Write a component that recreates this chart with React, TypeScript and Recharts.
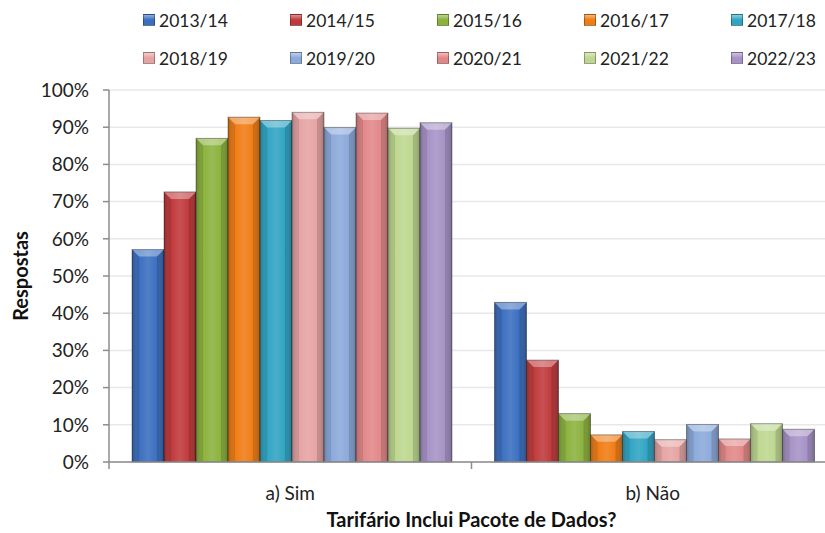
import { BarChart, Bar, XAxis, YAxis, CartesianGrid, Legend, Label } from 'recharts';

const categories = ['a) Sim', 'b) Não'];
const seasons = ['2013/14', '2014/15', '2015/16', '2016/17', '2017/18', '2018/19', '2019/20', '2020/21', '2021/22', '2022/23'];
const simValues = [57.1, 72.6, 87.0, 92.7, 91.8, 94.0, 89.9, 93.8, 89.7, 91.2];
const naoValues = [42.9, 27.4, 13.0, 7.3, 8.2, 6.0, 10.1, 6.2, 10.3, 8.8];
const yTicks = [0, 10, 20, 30, 40, 50, 60, 70, 80, 90, 100];

const colors = ['#3a6ebf', '#c0393b', '#8bb23d', '#f07c14', '#2fa4c3', '#e6a3a3', '#8ba9db', '#e28788', '#bdd78f', '#a692c6'];

const data = categories.map((name, ci) => {
  const src = ci === 0 ? simValues : naoValues;
  const row: Record<string, string | number> = { name };
  seasons.forEach((s, si) => {
    row[s] = src[si];
  });
  return row;
});

const FONT = 'Lato, "DejaVu Sans", sans-serif';
const AXIS_GREY = '#8c8c8c';
const CAT_MARGIN = 30;

// bar with a bevelled look, like the old office 3D style
function BevelBar(props: any) {
  const { x, y, width, height, fill } = props;
  if (!height || height <= 0) return null;
  const b = Math.min(7, height / 2, width / 4);
  return (
    <g>
      <rect x={x} y={y} width={width} height={height} fill={fill} />
      <rect x={x} y={y} width={width} height={height} fill="url(#shine)" />
      <polygon
        points={`${x},${y} ${x + width},${y} ${x + width - b},${y + b} ${x + b},${y + b}`}
        fill="#fff"
        fillOpacity={0.35}
      />
      <polygon
        points={`${x},${y} ${x + b},${y + b} ${x + b},${y + height} ${x},${y + height}`}
        fill="#000"
        fillOpacity={0.1}
      />
      <polygon
        points={`${x + width},${y} ${x + width - b},${y + b} ${x + width - b},${y + height} ${x + width},${y + height}`}
        fill="#000"
        fillOpacity={0.14}
      />
      <rect x={x} y={y} width={width} height={height} fill="none" stroke="#000" strokeOpacity={0.35} strokeWidth={1} />
    </g>
  );
}

// category label plus the small divider tick at the left edge of each category
function CatTick(props: any) {
  const { x, y, payload } = props;
  const half = payload?.offset ?? 0;
  const axisY = y - CAT_MARGIN;
  return (
    <g>
      {half > 0 && (
        <line x1={x - half} x2={x - half} y1={axisY} y2={axisY + 7} stroke={AXIS_GREY} strokeWidth={1.5} />
      )}
      <text x={x} y={y} textAnchor="middle" dominantBaseline="central" fontFamily={FONT} fontSize={19} fill="#222">
        {payload.value}
      </text>
    </g>
  );
}

function renderLegend(props: any) {
  const items = props.payload ?? [];
  return (
    <div style={{ position: 'relative', height: 80, fontFamily: FONT }}>
      {items.map((it: any, i: number) => (
        <div
          key={it.value}
          style={{
            position: 'absolute',
            left: 143 + (i % 5) * 147,
            top: i < 5 ? 10 : 48,
            height: 20,
            display: 'flex',
            alignItems: 'center',
            fontSize: 17.5,
            color: '#222',
          }}
        >
          <span
            style={{
              display: 'inline-block',
              width: 10,
              height: 10,
              marginRight: 4,
              background: `linear-gradient(180deg, rgba(255,255,255,0.45), rgba(255,255,255,0) 50%), ${it.color}`,
              border: '1px solid rgba(0,0,0,0.3)',
            }}
          />
          {it.value}
        </div>
      ))}
    </div>
  );
}

function XTitle(props: any) {
  const vb = props.viewBox;
  return (
    <text
      x={vb.x + vb.width / 2}
      y={vb.y + 57}
      textAnchor="middle"
      dominantBaseline="central"
      fontFamily={FONT}
      fontWeight={700}
      fontSize={20}
      fill="#111"
    >
      Tarifário Inclui Pacote de Dados?
    </text>
  );
}

function YTitle(props: any) {
  const vb = props.viewBox;
  const cx = vb.x + 11;
  const cy = vb.y + vb.height / 2;
  return (
    <text
      x={cx}
      y={cy}
      transform={`rotate(-90 ${cx} ${cy})`}
      textAnchor="middle"
      dominantBaseline="central"
      fontFamily={FONT}
      fontWeight={700}
      fontSize={20}
      fill="#111"
    >
      Respostas
    </text>
  );
}

export default function App() {
  return (
    <div style={{ position: 'absolute', left: 0, top: 0, width: 825, height: 533, overflow: 'hidden', background: '#fff' }}>
      <BarChart
        width={834}
        height={533}
        data={data}
        margin={{ top: 10, right: 0, left: 9, bottom: 41 }}
        barCategoryGap={23}
        barGap={0}
      >
        <defs>
          <linearGradient id="shine" x1="0" y1="0" x2="1" y2="0">
            <stop offset="0%" stopColor="#000" stopOpacity={0.18} />
            <stop offset="20%" stopColor="#fff" stopOpacity={0} />
            <stop offset="50%" stopColor="#fff" stopOpacity={0.12} />
            <stop offset="80%" stopColor="#fff" stopOpacity={0} />
            <stop offset="100%" stopColor="#000" stopOpacity={0.18} />
          </linearGradient>
        </defs>
        <CartesianGrid vertical={false} stroke="#e8e8e8" strokeWidth={1.5} />
        <XAxis
          dataKey="name"
          height={30}
          tickLine={false}
          tickSize={0}
          tickMargin={CAT_MARGIN}
          axisLine={{ stroke: AXIS_GREY, strokeWidth: 1.5 }}
          tick={CatTick}
        >
          <Label content={XTitle} />
        </XAxis>
        <YAxis
          width={100}
          domain={[0, 100]}
          ticks={yTicks}
          interval={0}
          tickFormatter={(v: number) => `${v}%`}
          tickSize={6}
          tickMargin={14}
          axisLine={{ stroke: AXIS_GREY, strokeWidth: 1.5 }}
          tickLine={{ stroke: AXIS_GREY, strokeWidth: 1.5 }}
          tick={{ fontSize: 19, fill: '#222', fontFamily: FONT }}
        >
          <Label content={YTitle} />
        </YAxis>
        <Legend
          verticalAlign="top"
          content={renderLegend}
          wrapperStyle={{ left: 0, top: 0, width: 834, height: 80 }}
        />
        {seasons.map((s, i) => (
          <Bar key={s} dataKey={s} fill={colors[i]} shape={BevelBar} isAnimationActive={false} />
        ))}
      </BarChart>
    </div>
  );
}
